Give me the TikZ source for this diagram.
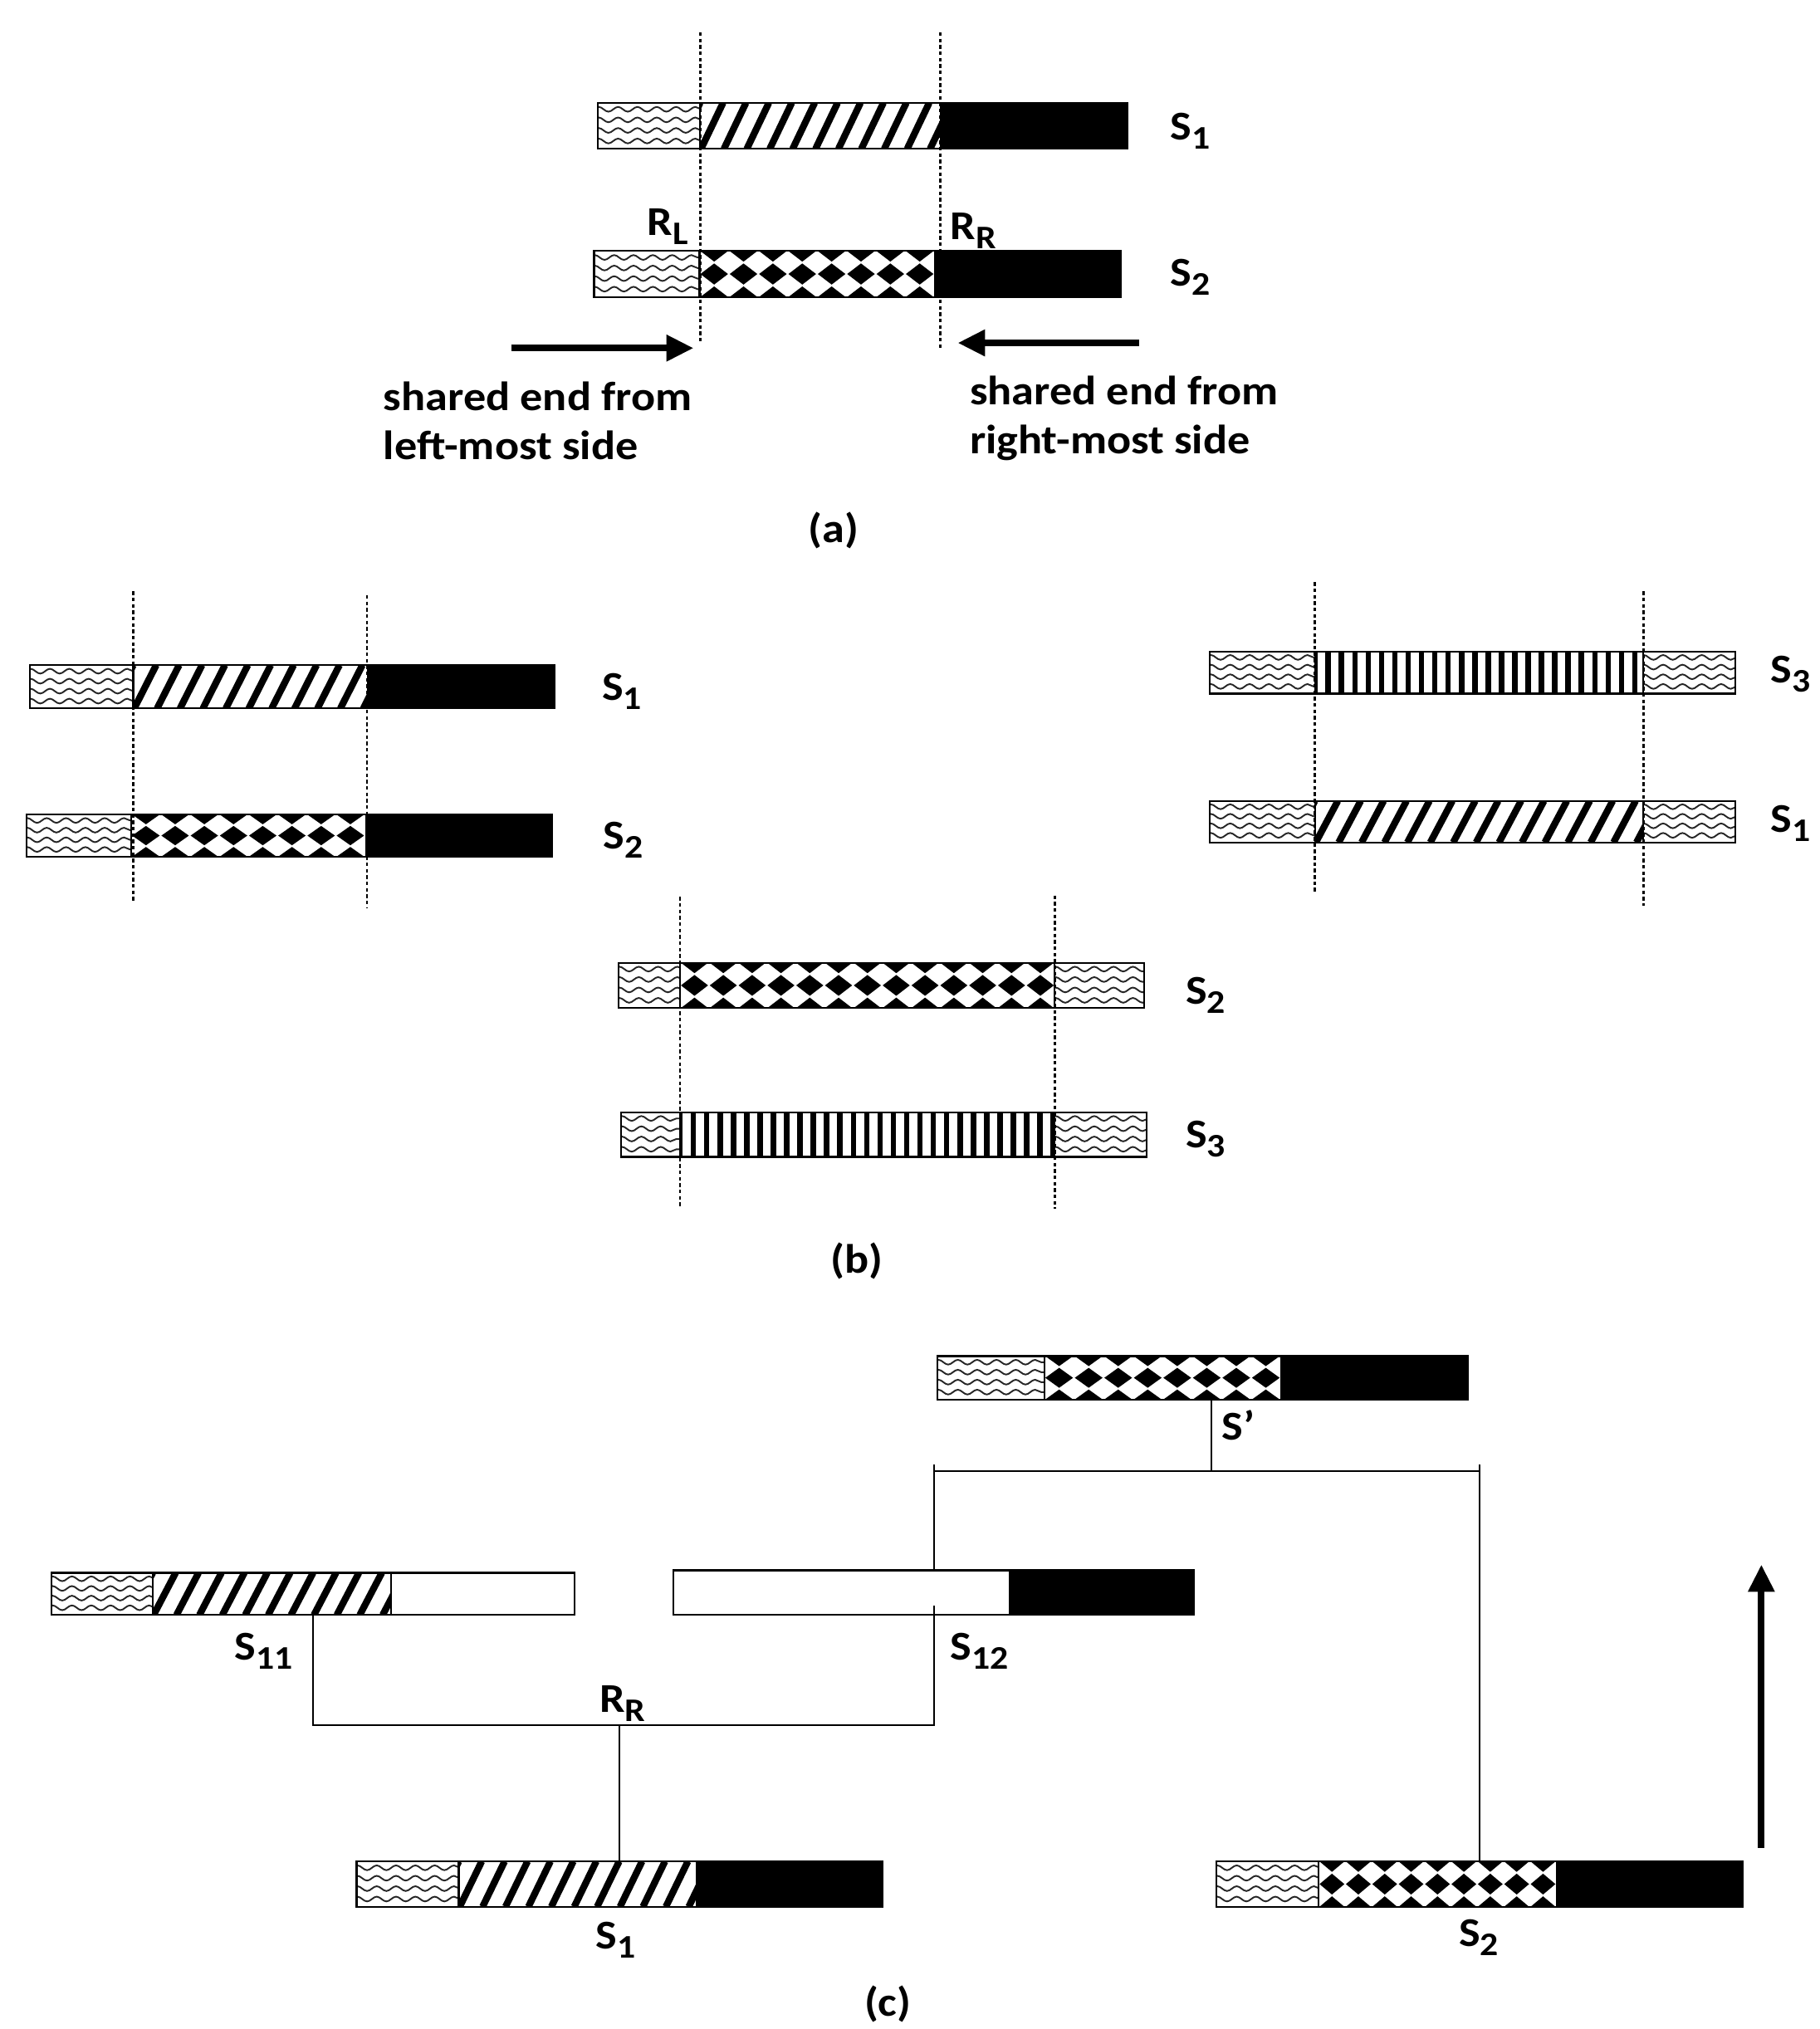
\documentclass[tikz,border=0pt]{standalone}
\usepackage{fontspec}
\setmainfont{Carlito}[FakeStretch=1.1]
\usetikzlibrary{fit,arrows.meta,decorations.pathmorphing}

\tikzset{
  wavy/.style={decorate, decoration={snake, segment length=8.5pt, amplitude=1.05pt}, line width=0.7pt, black!85},
  barframe/.style={draw, line width=0.8pt, inner sep=0pt, outer sep=0pt},
  guide/.style={line width=1pt, dash pattern=on 1.6pt off 1.2pt},
  conn/.style={line width=0.8pt},
  bigarrow/.style={line width=3pt, -{Triangle[length=12pt,width=11pt]}},
  lab/.style={font=\fontsize{18}{21.5}\selectfont\bfseries, inner sep=0pt, anchor=base west},
  captext/.style={font=\fontsize{18}{21.5}\selectfont\bfseries, inner sep=0pt, anchor=base},
}
\newcommand{\sbx}[1]{\raisebox{-4pt}{\fontsize{14.5}{14.5}\selectfont #1}}

\newcommand{\wavefill}[4]{%
  \begin{scope}
    \clip (#1,#3) rectangle (#2,#4);
    \foreach \bxF in {0.14,0.37,0.60,0.83}
      \draw[wavy] ({#1-4},{#3+\bxF*(#4-#3)}) -- ({#2+4},{#3+\bxF*(#4-#3)});
  \end{scope}}
\newcommand{\hatchfill}[4]{%
  \begin{scope}
    \clip (#1,#3) rectangle (#2,#4);
    \pgfmathtruncatemacro{\bxN}{(#2-#1)/17.7+3}
    \foreach \bxI in {0,...,\bxN}
      \draw[line width=3pt] ({#1-17+17.7*\bxI},#4) -- ({#1+17.7*\bxI},#3);
  \end{scope}}
\newcommand{\stripefill}[4]{%
  \begin{scope}
    \clip (#1,#3) rectangle (#2,#4);
    \pgfmathtruncatemacro{\bxN}{(#2-#1)/10.3+1}
    \foreach \bxI in {0,...,\bxN}
      \fill ({#1+10.3*\bxI-2.1},#3) rectangle ({#1+10.3*\bxI+2.1},#4);
  \end{scope}}
\newcommand{\checkfill}[4]{%
  \begin{scope}
    \clip (#1,#3) rectangle (#2,#4);
    \pgfmathtruncatemacro{\bxN}{round((#2-#1)/21.5)}
    \pgfmathsetmacro{\bxP}{(#2-#1)/\bxN}
    \pgfmathsetmacro{\bxH}{#4-#3}
    \foreach \bxI in {0,...,\bxN}{
      \pgfmathsetmacro{\bxC}{#1+(\bxI+0.5)*\bxP}
      \foreach \bxY in {0,0.5,1}{
        \fill ({\bxC-0.47*\bxP},{#3+\bxY*\bxH}) -- ({\bxC},{#3+(\bxY-0.23)*\bxH})
           -- ({\bxC+0.47*\bxP},{#3+\bxY*\bxH}) -- ({\bxC},{#3+(\bxY+0.23)*\bxH}) -- cycle;
      }}
  \end{scope}}
\newcommand{\blackfill}[4]{\fill (#1,#3) rectangle (#2,#4);}
\newcommand{\divider}[3]{\draw[line width=0.8pt] (#1,#2) -- (#1,#3);}

\begin{document}
\begin{tikzpicture}[x=0.02cm, y=-0.02cm]
\useasboundingbox (0,0) rectangle (1406,1568);
\fill[white] (0,0) rectangle (1406,1568);

% ===================== (a) =====================
\wavefill{462}{541}{79.5}{115}
\hatchfill{541}{726.5}{79.5}{115}
\blackfill{726.5}{871}{79.5}{115}
\divider{541}{79.5}{115}
\node[barframe, fit={(462,79.5)(871,115)}] (a1) {};

\wavefill{459}{540.5}{194}{229.5}
\checkfill{540.5}{722}{194}{229.5}
\blackfill{722}{866}{194}{229.5}
\divider{540.5}{194}{229.5}
\node[barframe, fit={(459,194)(866,229.5)}] (a2) {};

\draw[guide] (541,25) -- (541,265);
\draw[guide] (726.5,25) -- (726.5,270);

\node[lab] (a1l) at (904,108) {S\sbx{1}};
\node[lab] (a2l) at (904,221) {S\sbx{2}};
\node[lab] (rl) at (500,182) {R\sbx{L}};
\node[lab] (rr) at (734,185) {R\sbx{R}};

\coordinate (al1) at (395,269);
\coordinate (al2) at (536,269);
\coordinate (ar1) at (880,265);
\coordinate (ar2) at (740,265);
\draw[bigarrow] (al1) -- (al2);
\draw[bigarrow] (ar1) -- (ar2);

\node[lab] (tl) at (296,317.5) {\begin{tabular}[t]{@{}l@{}}shared end from\\left-most side\end{tabular}};
\node[lab] (tr) at (749,313) {\begin{tabular}[t]{@{}l@{}}shared end from\\right-most side\end{tabular}};

\node[captext] (capa) at (644,419) {(a)};

% ===================== (b) =====================
% left group
\wavefill{23}{103}{514}{547.5}
\hatchfill{103}{283.5}{514}{547.5}
\blackfill{283.5}{428.5}{514}{547.5}
\divider{103}{514}{547.5}
\node[barframe, fit={(23,514)(428.5,547.5)}] (bl1) {};

\wavefill{20.5}{101.5}{629.5}{662}
\checkfill{101.5}{282}{629.5}{662}
\blackfill{282}{426.5}{629.5}{662}
\divider{101.5}{629.5}{662}
\node[barframe, fit={(20.5,629.5)(426.5,662)}] (bl2) {};

\draw[guide] (103,457) -- (103,698);
\draw[guide] (283.5,460) -- (283.5,702);
\node[lab] (bl1l) at (465,541) {S\sbx{1}};
\node[lab] (bl2l) at (466,656) {S\sbx{2}};

% right group
\wavefill{935}{1016}{503.5}{536}
\stripefill{1016}{1269.5}{503.5}{536}
\wavefill{1269.5}{1341}{503.5}{536}
\divider{1016}{503.5}{536}
\divider{1269.5}{503.5}{536}
\node[barframe, fit={(935,503.5)(1341,536)}] (br3) {};

\wavefill{935}{1016}{619}{651}
\hatchfill{1016}{1269.5}{619}{651}
\wavefill{1269.5}{1341}{619}{651}
\divider{1016}{619}{651}
\divider{1269.5}{619}{651}
\node[barframe, fit={(935,619)(1341,651)}] (br1) {};

\draw[guide] (1016,450) -- (1016,691);
\draw[guide] (1270,457) -- (1270,700);
\node[lab] (br3l) at (1368,528) {S\sbx{3}};
\node[lab] (br1l) at (1368,643) {S\sbx{1}};

% middle group
\wavefill{478}{525.5}{744}{779}
\checkfill{525.5}{815}{744}{779}
\wavefill{815}{884}{744}{779}
\divider{525.5}{744}{779}
\divider{815}{744}{779}
\node[barframe, fit={(478,744)(884,779)}] (bm2) {};

\wavefill{480}{525.5}{859.5}{894}
\stripefill{525.5}{815}{859.5}{894}
\wavefill{815}{886}{859.5}{894}
\divider{525.5}{859.5}{894}
\divider{815}{859.5}{894}
\node[barframe, fit={(480,859.5)(886,894)}] (bm3) {};

\draw[guide] (525.5,693) -- (525.5,934);
\draw[guide] (815,692) -- (815,934);
\node[lab] (bm2l) at (916,776) {S\sbx{2}};
\node[lab] (bm3l) at (916,887) {S\sbx{3}};

\node[captext] (capb) at (662,984) {(b)};

% ===================== (c) =====================
\wavefill{724.5}{807}{1048}{1081.5}
\checkfill{807}{989.5}{1048}{1081.5}
\blackfill{989.5}{1134}{1048}{1081.5}
\divider{807}{1048}{1081.5}
\node[barframe, fit={(724.5,1048)(1134,1081.5)}] (cs) {};

\wavefill{40}{118}{1215.5}{1248}
\hatchfill{118}{302}{1215.5}{1248}
\divider{118}{1215.5}{1248}
\divider{302}{1215.5}{1248}
\node[barframe, fit={(40,1215.5)(443.8,1248)}] (c11) {};

\blackfill{779.5}{922.5}{1213.5}{1248}
\node[barframe, fit={(520.5,1213.5)(922.5,1248)}] (c12) {};

\wavefill{275.5}{354.5}{1438.5}{1473.5}
\hatchfill{354.5}{537.5}{1438.5}{1473.5}
\blackfill{537.5}{682}{1438.5}{1473.5}
\divider{354.5}{1438.5}{1473.5}
\node[barframe, fit={(275.5,1438.5)(682,1473.5)}] (c1) {};

\wavefill{940}{1019}{1438.5}{1473.5}
\checkfill{1019}{1202.5}{1438.5}{1473.5}
\blackfill{1202.5}{1346.5}{1438.5}{1473.5}
\divider{1019}{1438.5}{1473.5}
\node[barframe, fit={(940,1438.5)(1346.5,1473.5)}] (c2) {};

% connectors
\coordinate (jt) at (936,1137);
\coordinate (tk) at (0,1132);
\coordinate (brk) at (0,1333);
\draw[conn] (cs.south -| jt) -- (jt);
\draw[conn] (c12.north |- tk) -- (c12.north);
\draw[conn] (c12.north |- jt) -- (c2.north |- jt);
\draw[conn] (c2.north |- tk) -- (c2.north);
\draw[conn] (c11.south) -- (c11.south |- brk) -- (c12.south |- brk) -- ([yshift=4pt]c12.south);
\draw[conn] (c1.north |- brk) -- (c1.north);

\node[lab] (csl) at (944,1113) {S’};
\node[lab] (c11l) at (181,1283) {S\sbx{11}};
\node[lab] (c12l) at (734,1283) {S\sbx{12}};
\node[lab] (crr) at (463,1323) {R\sbx{R}};
\node[lab] (c1l) at (460,1506) {S\sbx{1}};
\node[lab] (c2l) at (1127,1504) {S\sbx{2}};

\coordinate (ua1) at (1361,1428);
\coordinate (ua2) at (1361,1209);
\draw[bigarrow] (ua1) -- (ua2);

\node[captext] (capc) at (686,1558) {(c)};
\end{tikzpicture}
\end{document}
